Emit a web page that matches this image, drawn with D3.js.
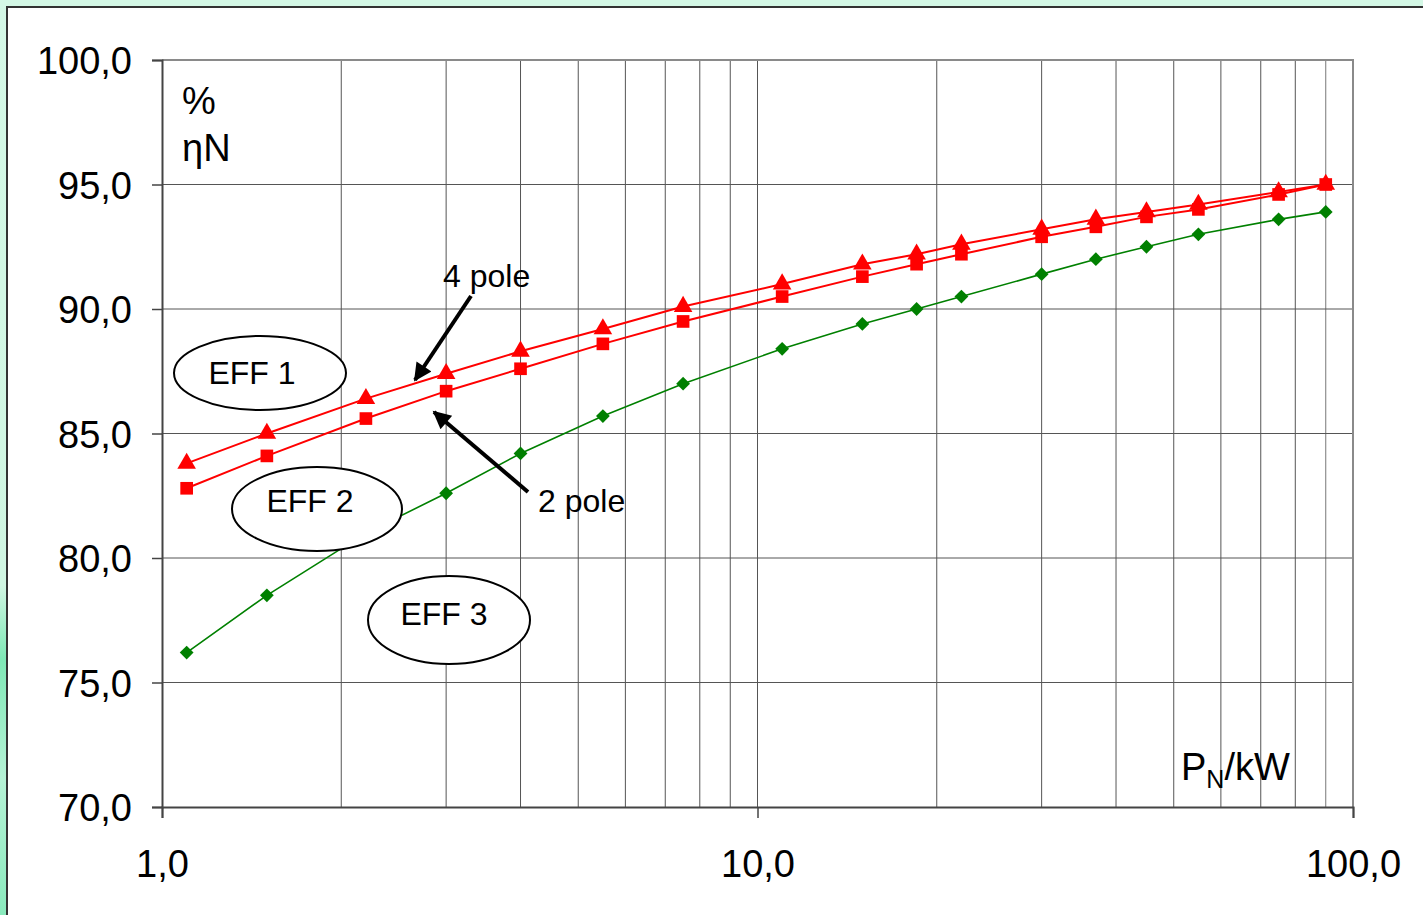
<!DOCTYPE html>
<html><head><meta charset="utf-8">
<script src="https://cdn.jsdelivr.net/npm/d3@7"></script>
<style>
html,body{margin:0;padding:0;background:#d4f8e6;}
svg{display:block;font-family:"Liberation Sans",Arial,sans-serif;}
</style></head>
<body>
<svg id="chart" width="1423" height="915"></svg>
<script>
// ---- data ----
const powerKW = [1.1, 1.5, 2.2, 3, 4, 5.5, 7.5, 11, 15, 18.5, 22, 30, 37, 45, 55, 75, 90];
const eff1FourPole = [83.8, 85.0, 86.4, 87.4, 88.3, 89.2, 90.1, 91.0, 91.8, 92.2, 92.6, 93.2, 93.6, 93.9, 94.2, 94.7, 95.0];
const eff1TwoPole  = [82.8, 84.1, 85.6, 86.7, 87.6, 88.6, 89.5, 90.5, 91.3, 91.8, 92.2, 92.9, 93.3, 93.7, 94.0, 94.6, 95.0];
const eff2Limit    = [76.2, 78.5, 81.0, 82.6, 84.2, 85.7, 87.0, 88.4, 89.4, 90.0, 90.5, 91.4, 92.0, 92.5, 93.0, 93.6, 93.9];
const yTicks = [70, 75, 80, 85, 90, 95, 100];
const xTicks = [1, 10, 100];
const xGrid = [2,3,4,5,6,7,8,9,10,20,30,40,50,60,70,80,90];

const svg = d3.select("#chart");
const W = 1423, H = 915;
const L = 162, R = 1353, T = 60, B = 807;

// background + panel
const defs = svg.append("defs");
const g1 = defs.append("linearGradient").attr("id","leftStrip").attr("x1",0).attr("y1",0).attr("x2",0).attr("y2",1);
g1.append("stop").attr("offset","0%").attr("stop-color","#d4f8e6");
g1.append("stop").attr("offset","64%").attr("stop-color","#d0f6e2");
g1.append("stop").attr("offset","72%").attr("stop-color","#7fe8b6");
g1.append("stop").attr("offset","85%").attr("stop-color","#b5f2d5");
g1.append("stop").attr("offset","100%").attr("stop-color","#8aeabd");
svg.append("rect").attr("x",0).attr("y",0).attr("width",W).attr("height",H).attr("fill","#d4f8e6");
svg.append("rect").attr("x",0).attr("y",0).attr("width",7).attr("height",H).attr("fill","url(#leftStrip)");
svg.append("rect").attr("x",7).attr("y",7).attr("width",W+10).attr("height",H+10)
  .attr("fill","#ffffff").attr("stroke","#333333").attr("stroke-width",2);

const x = d3.scaleLog().domain([1,100]).range([L,R]);
const y = d3.scaleLinear().domain([70,100]).range([B,T]);

// gridlines
svg.append("g").selectAll("line").data(xGrid).join("line")
  .attr("x1",d=>x(d)).attr("x2",d=>x(d)).attr("y1",T).attr("y2",B)
  .attr("stroke",d=>d===90?"#777":"#555").attr("stroke-width",1);
svg.append("g").selectAll("line").data(yTicks.filter(v=>v>70 && v<100)).join("line")
  .attr("x1",L).attr("x2",R).attr("y1",d=>y(d)).attr("y2",d=>y(d))
  .attr("stroke","#555").attr("stroke-width",1);
// top/right border
svg.append("path").attr("d",`M${L},${T}H${R}V${B}`).attr("fill","none")
  .attr("stroke","#8a8a8a").attr("stroke-width",2);

const fmt = d=>d3.format(".1f")(d).replace(".",",");
// axes
const yAxis = d3.axisLeft(y).tickValues(yTicks).tickSize(10).tickPadding(20).tickFormat(fmt);
const ya = svg.append("g").attr("transform",`translate(${L},0)`).call(yAxis);
ya.select(".domain").attr("stroke","#444").attr("stroke-width",2);
ya.selectAll(".tick line").attr("stroke","#444").attr("stroke-width",1.5);
ya.selectAll(".tick text").attr("font-size",38).attr("fill","#000").attr("dy","0.36em")
  .attr("font-family","'Liberation Sans',Arial,sans-serif");

const xAxis = d3.axisBottom(x).tickValues(xTicks).tickSize(11).tickPadding(30).tickFormat(fmt);
const xa = svg.append("g").attr("transform",`translate(0,${B})`).call(xAxis);
xa.select(".domain").attr("stroke","#444").attr("stroke-width",2);
xa.selectAll(".tick line").attr("stroke","#444").attr("stroke-width",1.5);
xa.selectAll(".tick text").attr("font-size",38).attr("fill","#000").attr("dy","0.75em")
  .attr("font-family","'Liberation Sans',Arial,sans-serif");

// series
const line = d3.line().x(d=>x(d[0])).y(d=>y(d[1]));
function series(vals, color, width, symType, symSize, rot){
  const pts = powerKW.map((p,i)=>[p, vals[i]]);
  svg.append("path").datum(pts).attr("d",line).attr("fill","none")
    .attr("stroke",color).attr("stroke-width",width);
  svg.append("g").selectAll("path").data(pts).join("path")
    .attr("transform",d=>`translate(${x(d[0])},${y(d[1])}) rotate(${rot})`)
    .attr("d",d3.symbol().type(symType).size(symSize)).attr("fill",color);
}
series(eff2Limit, "#008000", 1.6, d3.symbolSquare, 95, 45);
series(eff1TwoPole, "#ff0000", 2, d3.symbolSquare, 160, 0);
series(eff1FourPole, "#ff0000", 2, d3.symbolTriangle, 150, 0);

// ellipses with labels
const ell = [
  {cx:260, cy:373, rx:86, ry:37, tx:252, ty:384, t:"EFF 1"},
  {cx:317, cy:509, rx:85, ry:42, tx:310, ty:512, t:"EFF 2"},
  {cx:449, cy:620, rx:81, ry:44, tx:444, ty:625, t:"EFF 3"}
];
const eg = svg.append("g");
eg.selectAll("ellipse").data(ell).join("ellipse")
  .attr("cx",d=>d.cx).attr("cy",d=>d.cy).attr("rx",d=>d.rx).attr("ry",d=>d.ry)
  .attr("fill","#fff").attr("stroke","#000").attr("stroke-width",2);
eg.selectAll("text").data(ell).join("text")
  .attr("x",d=>d.tx).attr("y",d=>d.ty).attr("text-anchor","middle")
  .attr("font-size",32).attr("fill","#000").text(d=>d.t);

// arrows
defs.append("marker").attr("id","ah").attr("viewBox","0 0 10 10").attr("refX",9).attr("refY",5)
  .attr("markerWidth",5.5).attr("markerHeight",4.5).attr("orient","auto").attr("markerUnits","strokeWidth")
  .append("path").attr("d","M0,0L10,5L0,10z").attr("fill","#000");
svg.append("line").attr("x1",471).attr("y1",296).attr("x2",415).attr("y2",380)
  .attr("stroke","#000").attr("stroke-width",4).attr("marker-end","url(#ah)");
svg.append("line").attr("x1",528).attr("y1",492).attr("x2",434).attr("y2",412)
  .attr("stroke","#000").attr("stroke-width",4).attr("marker-end","url(#ah)");

svg.append("text").attr("x",443).attr("y",287).attr("font-size",32).text("4 pole");
svg.append("text").attr("x",538).attr("y",512).attr("font-size",32).text("2 pole");

// axis titles
svg.append("text").attr("x",182).attr("y",114).attr("font-size",38).text("%");
svg.append("text").attr("x",182).attr("y",161).attr("font-size",38).text("ηN");
const pt = svg.append("text").attr("x",1181).attr("y",780).attr("font-size",38);
pt.append("tspan").text("P");
pt.append("tspan").attr("font-size",25).attr("dy",8).text("N");
pt.append("tspan").attr("dy",-8).text("/kW");
</script>
</body></html>
